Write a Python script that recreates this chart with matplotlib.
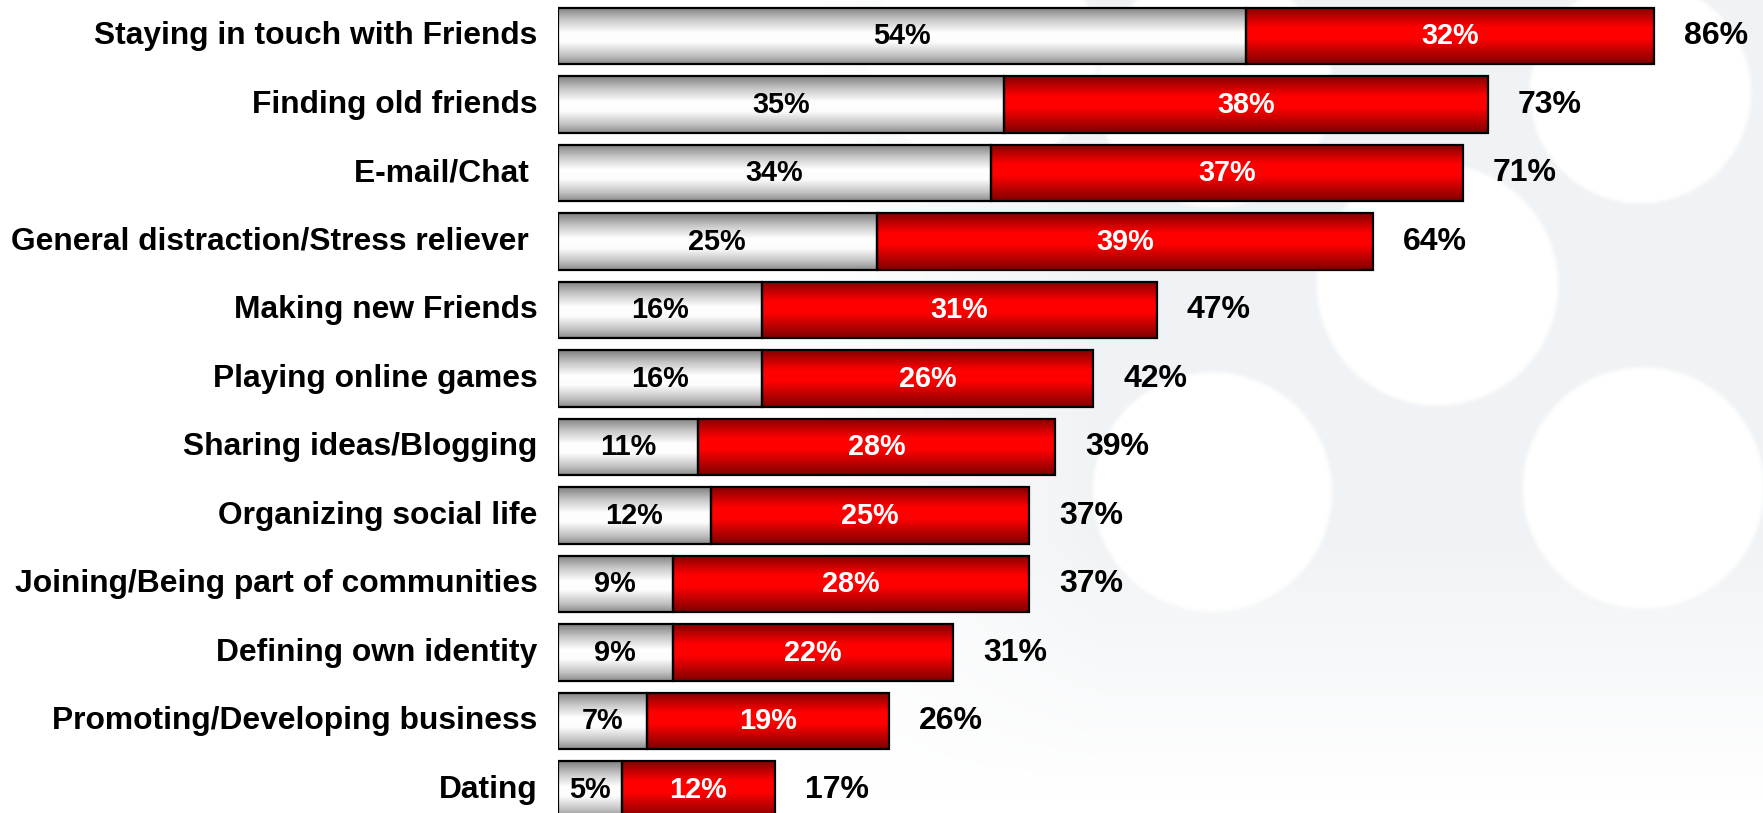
import numpy as np
import matplotlib
matplotlib.use("Agg")
import matplotlib.pyplot as plt

plt.rcParams['font.family'] = ['Liberation Sans', 'DejaVu Sans']
plt.rcParams['font.weight'] = 'bold'

# survey answers: share of "first" and "second" choices per activity
activities = [
    "Staying in touch with Friends",
    "Finding old friends",
    "E-mail/Chat ",
    "General distraction/Stress reliever ",
    "Making new Friends",
    "Playing online games",
    "Sharing ideas/Blogging",
    "Organizing social life",
    "Joining/Being part of communities",
    "Defining own identity",
    "Promoting/Developing business",
    "Dating",
]
first_share = [54, 35, 34, 25, 16, 16, 11, 12, 9, 9, 7, 5]
second_share = [32, 38, 37, 39, 31, 26, 28, 25, 28, 22, 19, 12]
total_share = [86, 73, 71, 64, 47, 42, 39, 37, 37, 31, 26, 17]

W, H = 1763, 813
fig = plt.figure(figsize=(W / 100, H / 100), dpi=100)
fig.patch.set_facecolor("white")

# soft decorative backdrop: pale grey field with white discs punched out
bg_ax = fig.add_axes([0, 0, 1, 1], zorder=0)
yy, xx = np.mgrid[0:H, 0:W]
fade = np.clip((xx - 800) / 300.0, 0, 1) * np.clip((800 - yy) / 260.0, 0, 1)
discs = [(983, 55, 112), (1214, 90, 115), (1640, 93, 108),
         (1437, 285, 118), (1212, 492, 117), (1643, 488, 118)]
for cx, cy, r in discs:
    d = np.hypot(xx - cx, yy - cy)
    fade *= np.clip((d - r) / 5.0, 0, 1)
grey = np.array([0.943, 0.953, 0.961])
bg = 1 - fade[..., None] * (1 - grey)
bg_ax.imshow(bg, extent=[0, W, H, 0], aspect='auto', interpolation='bilinear')
bg_ax.axis('off')

ax = fig.add_axes([558 / W, 0, 1 - 558 / W, 1], zorder=1)
ax.set_facecolor("none")
px_per_pct = 12.74
row_px = 68.5
ypos = np.arange(len(activities))
bar_h = 0.83

# vertical shading profiles for the two segment types
t = np.linspace(0, 1, 120)
g = np.interp(t, [0, 0.22, 0.45, 0.62, 0.85, 1], [0.50, 0.78, 1.0, 0.99, 0.76, 0.55])
grey_grad = np.dstack([g, g, g]).reshape(-1, 1, 3)
r = np.interp(t, [0, 0.35, 0.55, 1], [0.52, 1.0, 1.0, 0.50])
red_grad = np.dstack([r, np.zeros_like(r), np.zeros_like(r)]).reshape(-1, 1, 3)

first_bars = ax.barh(ypos, first_share, height=bar_h, facecolor='none',
                     edgecolor='black', linewidth=1.6, zorder=3)
second_bars = ax.barh(ypos, second_share, left=first_share, height=bar_h,
                      facecolor='none', edgecolor='black', linewidth=1.6, zorder=3)

for bars, grad in ((first_bars, grey_grad), (second_bars, red_grad)):
    for p in bars.patches:
        x0, y0 = p.get_x(), p.get_y()
        ax.imshow(grad, extent=[x0, x0 + p.get_width(), y0 + p.get_height(), y0],
                  aspect='auto', interpolation='bilinear', zorder=2)

for i, (a, b, tot) in enumerate(zip(first_share, second_share, total_share)):
    ax.text(a / 2, i, f"{a}%", ha='center', va='center', fontsize=20.8,
            color='black', zorder=4)
    ax.text(a + b / 2, i, f"{b}%", ha='center', va='center', fontsize=20.8,
            color='white', zorder=4)
    ax.text(tot + 2.35, i, f"{tot}%", ha='left', va='center', fontsize=23,
            color='black', zorder=4)
    ax.text(-1.6, i, activities[i], ha='right', va='center', fontsize=22.9,
            color='black', zorder=4, clip_on=False)

ax.set_xlim(0, (W - 558) / px_per_pct)
ax.set_ylim((H - 36) / row_px, -36 / row_px)
ax.axis('off')

fig.savefig("out.png", dpi=100, facecolor=fig.get_facecolor())
